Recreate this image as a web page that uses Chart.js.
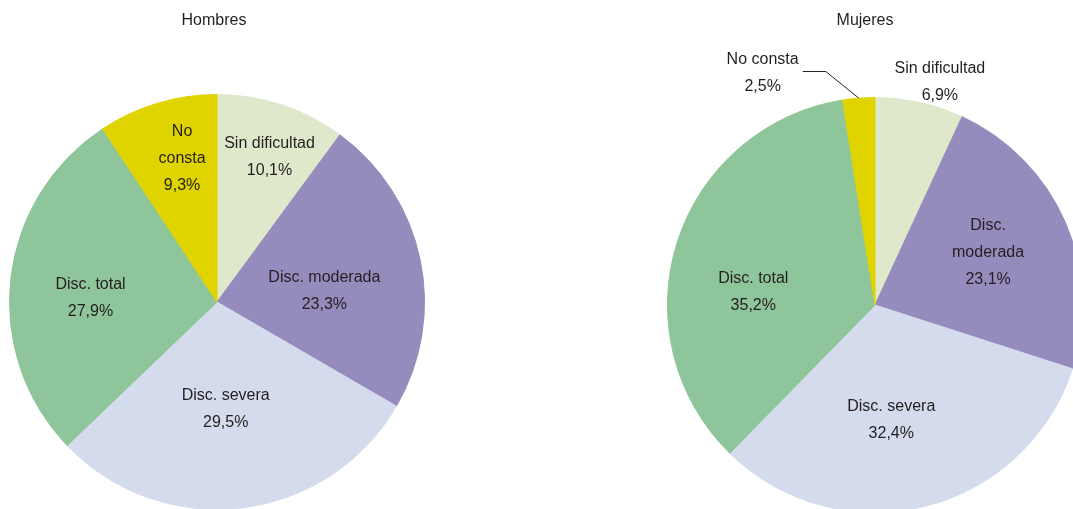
<!DOCTYPE html>
<html>
<head>
<meta charset="utf-8">
<script src="https://cdn.jsdelivr.net/npm/chart.js@4.4.1/dist/chart.umd.min.js"></script>
<style>
    html, body { margin: 0; padding: 0; width: 1073px; height: 509px; overflow: hidden; background: #fff; }
    .pie { position: absolute; top: 0; }
</style>
</head>
<body>
<div class="pie" style="left:0"><canvas id="hombres" width="440" height="530"></canvas></div>
<div class="pie" style="left:640px"><canvas id="mujeres" width="460" height="530"></canvas></div>
<script>
/* ---- datos ---- */
const categorias = ['Sin dificultad', 'Disc. moderada', 'Disc. severa', 'Disc. total', 'No consta'];
const hombres = [10.1, 23.3, 29.5, 27.9, 9.3];
const mujeres = [6.9, 23.1, 32.4, 35.2, 2.5];
const colores = ['#dfe8ca', '#958bbd', '#d4dbec', '#8fc59a', '#e0d400'];

// texto de cada etiqueta (sin el valor), por grafico
const textosH = [['Sin dificultad'], ['Disc. moderada'], ['Disc. severa'], ['Disc. total'], ['No', 'consta']];
const textosM = [['Sin dificultad'], ['Disc.', 'moderada'], ['Disc. severa'], ['Disc. total'], ['No consta']];

/* ---- colocacion de etiquetas: fraccion del radio y giro (grados) ---- */
const posH = [
    { r: 0.745, giro: 1.7 },
    { r: 0.52, giro: 6.1 },
    { r: 0.52, giro: 2.2 },
    { r: 0.61, giro: -4.4 },
    { r: 0.71, giro: 3.0 }
];
const posM = [
    { r: 1.12, giro: 3.8 },
    { r: 0.60, giro: -1.1 },
    { r: 0.56, giro: 5.8 },
    { r: 0.59, giro: -11.5 },
    { r: 1.24, giro: -21.4, guia: { r: 1.15, giro: -7.4, cola: -23 } }
];

const LH = 27;
const fmt = v => v.toFixed(1).replace('.', ',') + '%';
const rad = g => g * Math.PI / 180;

const etiquetas = {
    id: 'etiquetas',
    afterDatasetsDraw(chart, args, opts) {
        const ctx = chart.ctx;
        const arcs = chart.getDatasetMeta(0).data;
        const valores = chart.data.datasets[0].data;
        ctx.save();
        ctx.font = '16px "Liberation Sans", Arial, sans-serif';
        ctx.fillStyle = '#231f20';
        ctx.strokeStyle = '#231f20';
        ctx.lineWidth = 1;
        ctx.textAlign = 'center';
        ctx.textBaseline = 'middle';

        arcs.forEach((arc, i) => {
            const p = opts.pos[i];
            const mid = (arc.startAngle + arc.endAngle) / 2;
            const a = mid + rad(p.giro);
            const x = arc.x + Math.cos(a) * arc.outerRadius * p.r;
            const y = arc.y + Math.sin(a) * arc.outerRadius * p.r;
            const lineas = opts.textos[i].concat(fmt(valores[i]));
            const y0 = y - (lineas.length - 1) * LH / 2;
            lineas.forEach((t, k) => ctx.fillText(t, x, y0 + k * LH));

            // linea guia para porciones pequenas
            if (p.guia) {
                const g = p.guia;
                const ae = mid + rad(g.giro);
                const ex = arc.x + Math.cos(ae) * arc.outerRadius * g.r;
                const ey = arc.y + Math.sin(ae) * arc.outerRadius * g.r;
                ctx.beginPath();
                ctx.moveTo(arc.x + Math.cos(mid) * arc.outerRadius, arc.y + Math.sin(mid) * arc.outerRadius);
                ctx.lineTo(ex, ey);
                ctx.lineTo(ex + g.cola, ey);
                ctx.stroke();
            }
        });

        // titulo
        ctx.fillText(opts.titulo, arcs[0].x + opts.tituloDx, 21);
        ctx.restore();
    }
};

function crearTarta(id, valores, textos, pos, titulo, tituloDx, padding) {
    return new Chart(document.getElementById(id), {
        type: 'pie',
        data: {
            labels: categorias,
            datasets: [{
                data: valores,
                backgroundColor: colores,
                borderColor: colores,
                borderWidth: 1
            }]
        },
        options: {
            responsive: false,
            animation: false,
            layout: { padding: padding },
            plugins: {
                legend: { display: false },
                tooltip: { enabled: false },
                etiquetas: { textos: textos, pos: pos, titulo: titulo, tituloDx: tituloDx }
            }
        },
        plugins: [etiquetas]
    });
}

crearTarta('hombres', hombres, textosH, posH, 'Hombres', -3, { left: 9, top: 94, right: 15, bottom: 20 });
crearTarta('mujeres', mujeres, textosM, posM, 'Mujeres', -10, { left: 27, top: 97, right: 17, bottom: 17 });
</script>
</body>
</html>
